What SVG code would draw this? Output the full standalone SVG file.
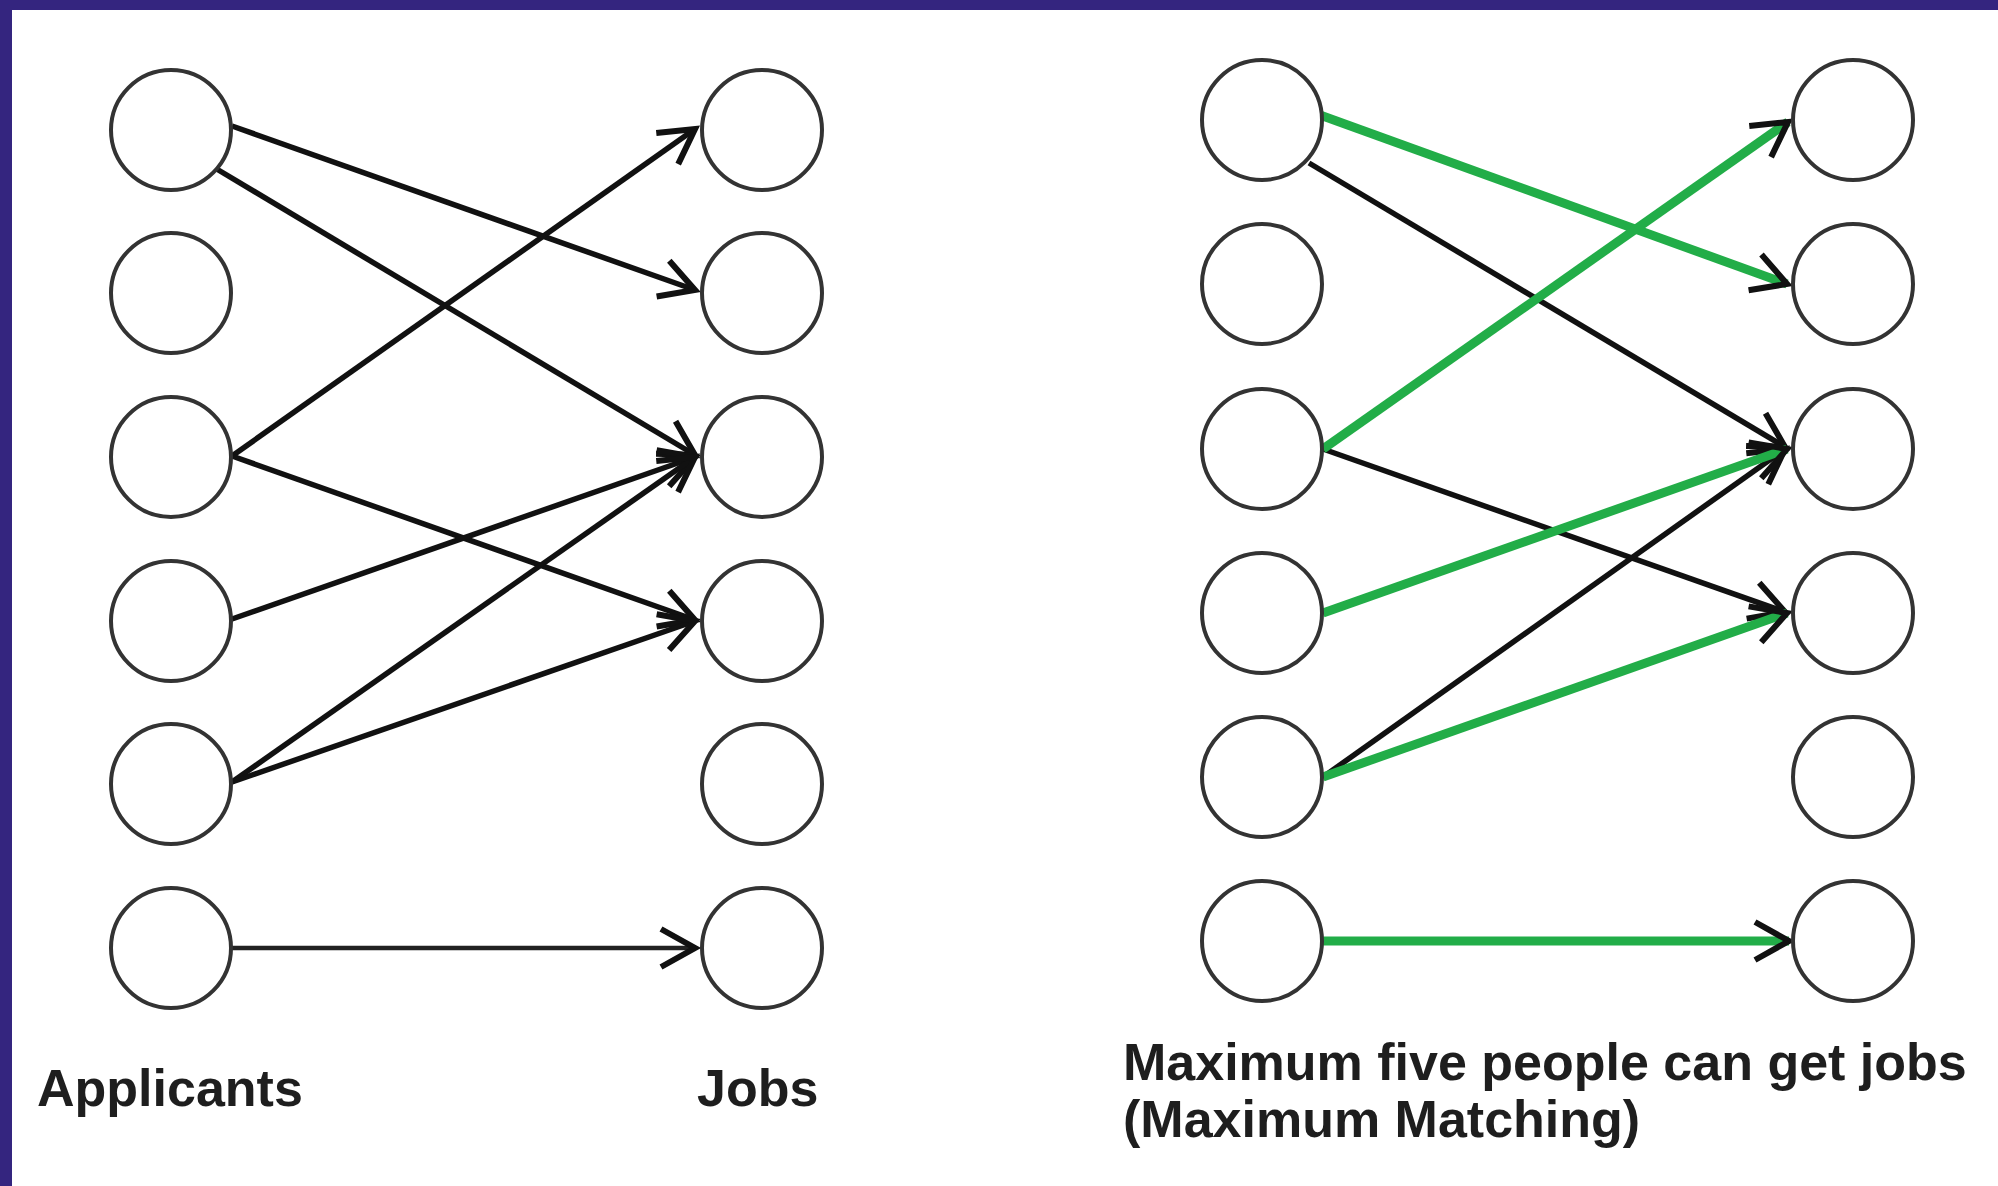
<svg xmlns="http://www.w3.org/2000/svg" width="1998" height="1186" viewBox="0 0 1998 1186">
<style>
.node{fill:#fff;stroke:#333;stroke-width:4}
.e{fill:none;stroke:#111;stroke-width:5.5}
.h{fill:none;stroke:#222;stroke-width:4.5}
.g{fill:none;stroke:#22ad48;stroke-width:9}
.lbl{font-family:"Liberation Sans",Arial,sans-serif;font-weight:bold;font-size:52px;fill:#1e1e1e}
</style>
<defs>
<marker id="ah" markerUnits="userSpaceOnUse" markerWidth="60" markerHeight="60" refX="0" refY="0" orient="auto" overflow="visible">
<path d="M-34,-19 L0,0 L-34,19" fill="none" stroke="#111" stroke-width="6" stroke-linejoin="miter"/>
</marker>
</defs>
<rect x="0" y="0" width="1998" height="1186" fill="#fff"/>
<rect x="0" y="0" width="1998" height="10" fill="#34257f"/>
<rect x="0" y="0" width="12" height="1186" fill="#34257f"/>

<g id="connectors">
<line class="e" x1="232" y1="126" x2="695" y2="290" marker-end="url(#ah)"/>
<line class="e" x1="215" y1="168" x2="695" y2="455" marker-end="url(#ah)"/>
<line class="e" x1="232" y1="456" x2="695" y2="129" marker-end="url(#ah)"/>
<line class="e" x1="232" y1="456" x2="695" y2="620" marker-end="url(#ah)"/>
<line class="e" x1="232" y1="619" x2="695" y2="457" marker-end="url(#ah)"/>
<line class="e" x1="232" y1="782" x2="695" y2="457" marker-end="url(#ah)"/>
<line class="e" x1="232" y1="782" x2="695" y2="621" marker-end="url(#ah)"/>
<line class="h" x1="232" y1="948" x2="695" y2="948" marker-end="url(#ah)"/>

<line class="e" x1="1309" y1="163" x2="1785" y2="447" marker-end="url(#ah)"/>
<line class="e" x1="1323" y1="449" x2="1785" y2="612" marker-end="url(#ah)"/>
<line class="e" x1="1323" y1="777" x2="1785" y2="449" marker-end="url(#ah)"/>
<line class="g" x1="1320" y1="115" x2="1787" y2="284" marker-end="url(#ah)"/>
<line class="g" x1="1323" y1="449" x2="1788" y2="122" marker-end="url(#ah)"/>
<line class="g" x1="1323" y1="613" x2="1787" y2="449" marker-end="url(#ah)"/>
<line class="g" x1="1323" y1="777" x2="1787" y2="613" marker-end="url(#ah)"/>
<line class="g" x1="1323" y1="941" x2="1789" y2="941" marker-end="url(#ah)"/>
</g>

<g id="L-A1"><circle class="node" cx="171" cy="130" r="60"/></g>
<g id="L-A2"><circle class="node" cx="171" cy="293" r="60"/></g>
<g id="L-A3"><circle class="node" cx="171" cy="457" r="60"/></g>
<g id="L-A4"><circle class="node" cx="171" cy="621" r="60"/></g>
<g id="L-A5"><circle class="node" cx="171" cy="784" r="60"/></g>
<g id="L-A6"><circle class="node" cx="171" cy="948" r="60"/></g>
<g id="L-J1"><circle class="node" cx="762" cy="130" r="60"/></g>
<g id="L-J2"><circle class="node" cx="762" cy="293" r="60"/></g>
<g id="L-J3"><circle class="node" cx="762" cy="457" r="60"/></g>
<g id="L-J4"><circle class="node" cx="762" cy="621" r="60"/></g>
<g id="L-J5"><circle class="node" cx="762" cy="784" r="60"/></g>
<g id="L-J6"><circle class="node" cx="762" cy="948" r="60"/></g>

<g id="R-A1"><circle class="node" cx="1262" cy="120" r="60"/></g>
<g id="R-A2"><circle class="node" cx="1262" cy="284" r="60"/></g>
<g id="R-A3"><circle class="node" cx="1262" cy="449" r="60"/></g>
<g id="R-A4"><circle class="node" cx="1262" cy="613" r="60"/></g>
<g id="R-A5"><circle class="node" cx="1262" cy="777" r="60"/></g>
<g id="R-A6"><circle class="node" cx="1262" cy="941" r="60"/></g>
<g id="R-J1"><circle class="node" cx="1853" cy="120" r="60"/></g>
<g id="R-J2"><circle class="node" cx="1853" cy="284" r="60"/></g>
<g id="R-J3"><circle class="node" cx="1853" cy="449" r="60"/></g>
<g id="R-J4"><circle class="node" cx="1853" cy="613" r="60"/></g>
<g id="R-J5"><circle class="node" cx="1853" cy="777" r="60"/></g>
<g id="R-J6"><circle class="node" cx="1853" cy="941" r="60"/></g>

<g id="labels">
<text class="lbl" x="37" y="1106">Applicants</text>
<text class="lbl" x="697" y="1106">Jobs</text>
<text class="lbl" x="1123" y="1080">Maximum five people can get jobs</text>
<text class="lbl" x="1123" y="1137">(Maximum Matching)</text>
</g>
</svg>
